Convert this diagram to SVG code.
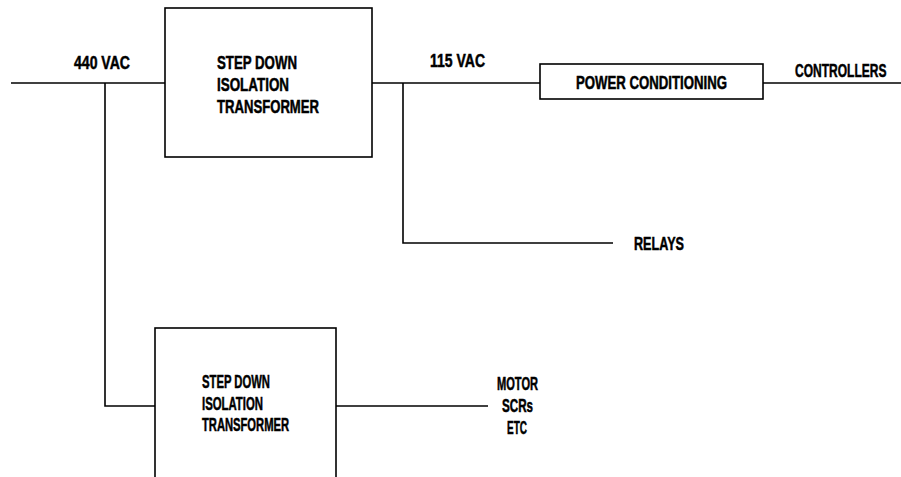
<svg xmlns="http://www.w3.org/2000/svg" width="901" height="477" viewBox="0 0 901 477">
<style>
.box{fill:#fff;stroke:#000;stroke-width:1.6}
.ln{fill:none;stroke:#000;stroke-width:1.6}
text{font-family:"Liberation Sans",Arial,sans-serif;font-weight:bold;font-size:18px;fill:#000;stroke:#000;stroke-width:0.5}
.s{font-size:17.5px}
</style>
<rect width="901" height="477" fill="#fff"/>
<g id="connectors">
<path class="ln" d="M11 83H165"/>
<path class="ln" d="M105 83V406H155"/>
<path class="ln" d="M372 83H540"/>
<path class="ln" d="M403 83V243H613"/>
<path class="ln" d="M763 83H901"/>
<path class="ln" d="M336 406H488"/>
</g>
<g id="label-440">
<text x="74" y="69" textLength="56" lengthAdjust="spacingAndGlyphs">440 VAC</text>
</g>
<g id="transformer1">
<rect class="box" x="165" y="8" width="207" height="149"/>
<text x="217" y="69" textLength="80" lengthAdjust="spacingAndGlyphs">STEP DOWN</text>
<text x="217" y="91" textLength="72" lengthAdjust="spacingAndGlyphs">ISOLATION</text>
<text x="217" y="113" textLength="102" lengthAdjust="spacingAndGlyphs">TRANSFORMER</text>
</g>
<g id="label-115">
<text x="430" y="67" textLength="55" lengthAdjust="spacingAndGlyphs">115 VAC</text>
</g>
<g id="power-conditioning">
<rect class="box" x="540" y="64" width="223" height="35"/>
<text x="576" y="89" textLength="151" lengthAdjust="spacingAndGlyphs">POWER CONDITIONING</text>
</g>
<g id="controllers">
<text transform="translate(795,77) scale(0.668,1)" x="0" y="0">CONTROLLERS</text>
</g>
<g id="relays">
<text x="634" y="250" textLength="50" lengthAdjust="spacingAndGlyphs">RELAYS</text>
</g>
<g id="transformer2">
<rect class="box" x="155" y="328" width="181" height="160"/>
<text class="s" x="202" y="388" textLength="68" lengthAdjust="spacingAndGlyphs">STEP DOWN</text>
<text class="s" x="202" y="410" textLength="61" lengthAdjust="spacingAndGlyphs">ISOLATION</text>
<text class="s" x="202" y="431" textLength="87" lengthAdjust="spacingAndGlyphs">TRANSFORMER</text>
</g>
<g id="motor">
<text class="s" x="497" y="390" textLength="41" lengthAdjust="spacingAndGlyphs">MOTOR</text>
<text class="s" x="502" y="412" textLength="31" lengthAdjust="spacingAndGlyphs">SCRs</text>
<text class="s" x="507" y="434" textLength="20" lengthAdjust="spacingAndGlyphs">ETC</text>
</g>
</svg>
